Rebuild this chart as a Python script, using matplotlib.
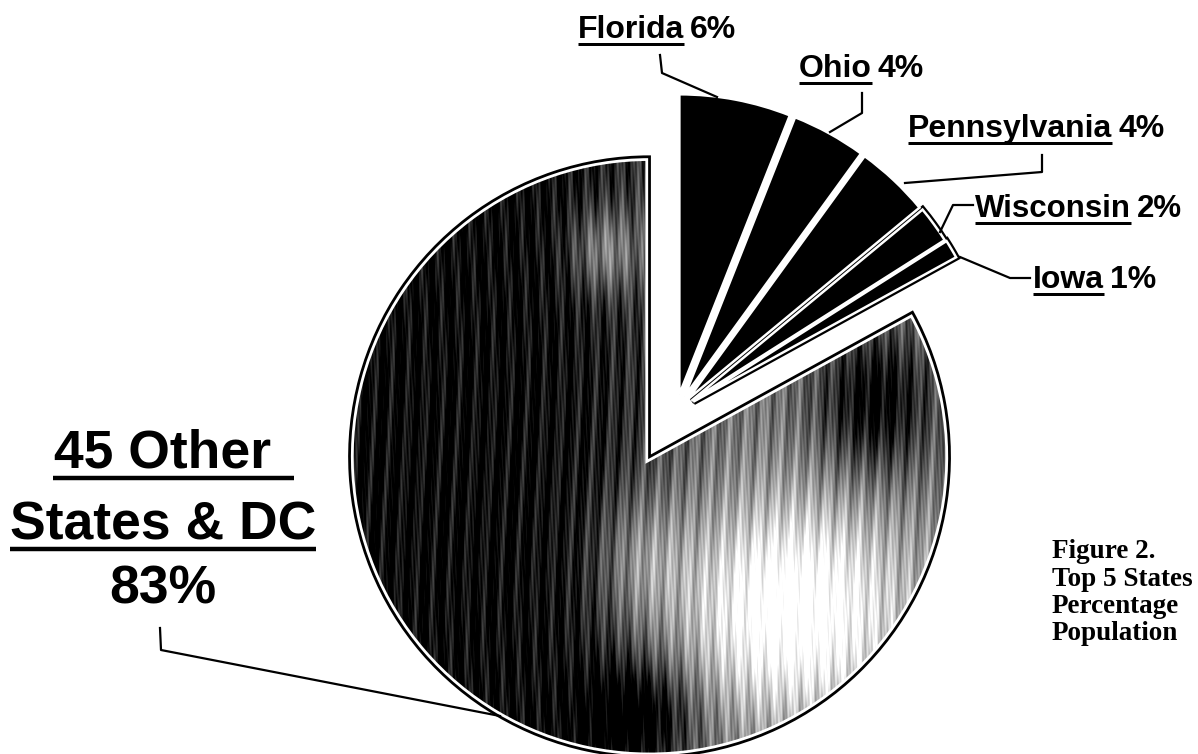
import numpy as np
import matplotlib.pyplot as plt
from matplotlib.patches import Wedge

# data
states = ["Florida", "Ohio", "Pennsylvania", "Wisconsin", "Iowa", "45 Other States & DC"]
shares = [6, 4, 4, 2, 1, 83]
pct_text = ["6%", "4%", "4%", "2%", "1%", "83%"]

H = 754  # work in pixel units, y measured from the top
SANS = "Liberation Sans"

fig = plt.figure(figsize=(11.98, 7.54), dpi=100)
ax = fig.add_axes([0, 0, 1, 1])

wedges, _ = ax.pie(
    shares,
    startangle=90,
    counterclock=False,
    center=(676, H - 412),
    radius=300,
    explode=[18, 18, 18, 19, 20, 52],
    colors=["black"] * 5 + ["none"],
    wedgeprops=dict(edgecolor="white", linewidth=1.8),
)
ax.set_xlim(0, 1198)
ax.set_ylim(0, H)
ax.set_aspect("equal")
ax.axis("off")

# mottled grey fill for the big slice
big = wedges[5]
xs = np.arange(340, 960)
ys = np.arange(140, 770)
X, Y = np.meshgrid(xs, ys)
dark = 0.98 - 0.45 / (1 + np.exp(-(X - 655) / 35))
dark -= 0.7 * np.exp(-((X - 790) / 115) ** 2 - ((Y - 610) / 110) ** 2)
dark += 0.5 * np.exp(-((X - 875) / 60) ** 2 - ((Y - 400) / 75) ** 2)
dark += 0.4 * np.exp(-((X - 640) / 55) ** 2 - ((Y - 715) / 50) ** 2)
dark -= 0.4 * np.exp(-((X - 605) / 35) ** 2 - ((Y - 250) / 45) ** 2)
dark -= 0.3 * np.exp(-((X - 640) / 45) ** 2 - ((Y - 560) / 70) ** 2)
dark += (0.12 * np.sin(0.37 * X + 2 * np.sin(0.013 * Y))
         + 0.08 * np.sin(0.83 * X + 0.05 * Y)
         + 0.06 * np.sin(1.9 * X - 0.11 * Y))
dark = np.clip(dark, 0, 1)
im = ax.imshow(dark, cmap="gray_r", vmin=0, vmax=1, origin="upper",
               extent=(340, 960, H - 770, H - 140), interpolation="nearest", zorder=1)
im.set_clip_path(big)
big.set_zorder(0)
ax.add_patch(Wedge(big.center, big.r, big.theta1, big.theta2,
                   fill=False, edgecolor="white", linewidth=6, zorder=2))
ax.add_patch(Wedge(big.center, big.r, big.theta1, big.theta2,
                   fill=False, edgecolor="black", linewidth=2, zorder=3))

# Iowa / Wisconsin get an extra black rim
for w in wedges[3:5]:
    ax.add_patch(Wedge(w.center, w.r, w.theta1, w.theta2,
                       facecolor="black", edgecolor="black", linewidth=5, zorder=0.5))

renderer = fig.canvas.get_renderer()


def to_data(bb):
    return bb.transformed(ax.transData.inverted())


def state_label(x, y, name, pct, size=23, gap=6, ul=3):
    t = ax.text(x, H - y, name, fontsize=size, fontweight="bold", family=SANS,
                va="baseline", ha="left")
    bb = to_data(t.get_window_extent(renderer))
    ax.plot([bb.x0, bb.x1], [H - y - 6, H - y - 6], color="black", lw=ul * 0.72,
            solid_capstyle="butt")
    ax.text(bb.x1 + gap, H - y, pct, fontsize=size, fontweight="bold", family=SANS,
            va="baseline", ha="left")


def leader(px, py):
    ax.plot(px, [H - v for v in py], color="black", lw=1.6, zorder=4)


state_label(578, 38, states[0], pct_text[0])
state_label(799, 77, states[1], pct_text[1])
state_label(908, 137, states[2], pct_text[2])
state_label(975, 217, states[3], pct_text[3], size=22.5)
state_label(1033, 288, states[4], pct_text[4])

leader([660, 662, 717], [55, 73, 97])
leader([862, 862, 830], [93, 113, 132])
leader([1042, 1042, 905], [155, 172, 183])
leader([973, 953, 940], [205, 205, 232])
leader([1030, 1010, 960], [278, 278, 257])
leader([160, 161, 500], [628, 650, 716])

# big slice label
cx = 163
big_size = 38.5
t1 = ax.text(cx, H - 468, "45 Other", fontsize=big_size, fontweight="bold",
             family=SANS, ha="center", va="baseline")
bb1 = to_data(t1.get_window_extent(renderer))
ax.plot([bb1.x0 - 2, bb1.x1 + 22], [H - 478, H - 478], color="black", lw=3.2,
        solid_capstyle="butt")
t2 = ax.text(cx, H - 539, "States & DC", fontsize=big_size, fontweight="bold",
             family=SANS, ha="center", va="baseline")
bb2 = to_data(t2.get_window_extent(renderer))
ax.plot([bb2.x0, bb2.x1], [H - 549, H - 549], color="black", lw=3.2,
        solid_capstyle="butt")
ax.text(cx, H - 604, pct_text[5], fontsize=big_size, fontweight="bold",
        family=SANS, ha="center", va="baseline")

# caption
caption = ["Figure 2.", "Top 5 States", "Percentage", "Population"]
for line, base in zip(caption, [558, 586, 613, 640]):
    ax.text(1052, H - base, line, fontsize=19.5, fontweight="bold",
            family="Liberation Serif", va="baseline", ha="left")

fig.savefig("out.png", dpi=100)
plt.close(fig)
